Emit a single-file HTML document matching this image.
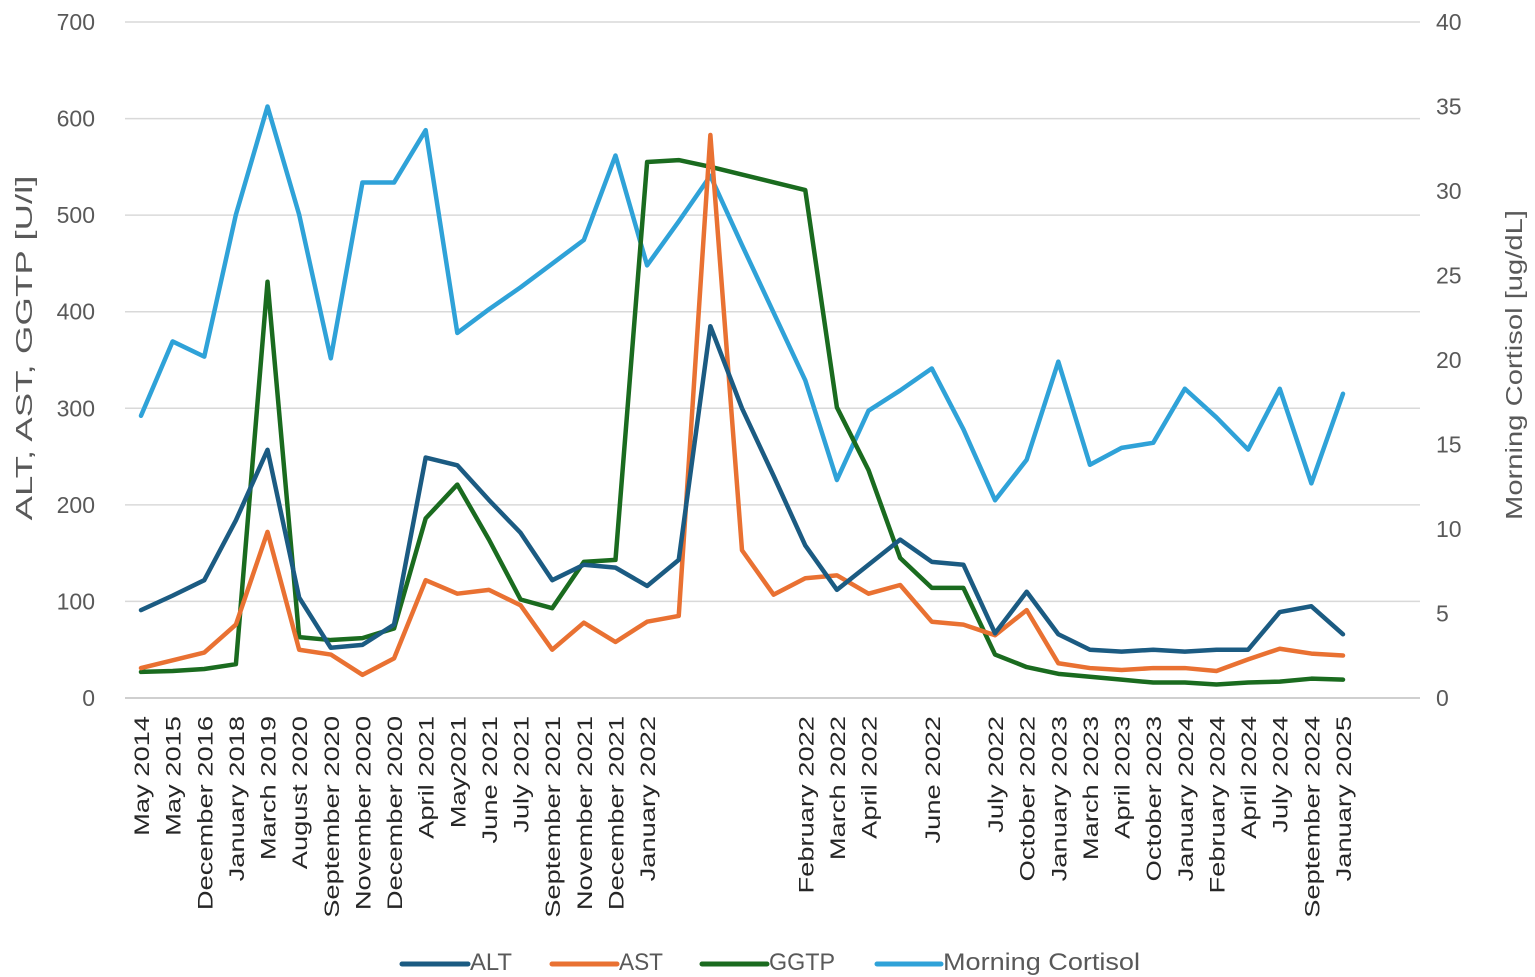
<!DOCTYPE html>
<html><head><meta charset="utf-8">
<style>
body{margin:0;background:#fff;}
svg{display:block;font-family:"Liberation Sans",sans-serif;}
</style></head>
<body>
<svg id="chart" width="1535" height="977" viewBox="0 0 1535 977">
<g id="grid"></g>
<g id="yl"></g>
<g id="yr"></g>
<g id="xl"></g>
<g id="series"></g>
<text transform="translate(32,348) rotate(-90)" text-anchor="middle" font-size="23" fill="#595959" textLength="345" lengthAdjust="spacingAndGlyphs">ALT, AST, GGTP [U/l]</text>
<text transform="translate(1522,365) rotate(-90)" text-anchor="middle" font-size="23" fill="#595959" textLength="310" lengthAdjust="spacingAndGlyphs">Morning Cortisol [ug/dL]</text>
<g font-size="24" fill="#595959">
<g><line x1="402" y1="964" x2="468" y2="964" stroke="#1b5b82" stroke-width="5" stroke-linecap="round"/><text x="470" y="970" textLength="42" lengthAdjust="spacingAndGlyphs">ALT</text></g>
<g><line x1="552" y1="964" x2="617" y2="964" stroke="#e97132" stroke-width="5" stroke-linecap="round"/><text x="619" y="970" textLength="44" lengthAdjust="spacingAndGlyphs">AST</text></g>
<g><line x1="702" y1="964" x2="767" y2="964" stroke="#1a6b1f" stroke-width="5" stroke-linecap="round"/><text x="769" y="970" textLength="66" lengthAdjust="spacingAndGlyphs">GGTP</text></g>
<g><line x1="877" y1="964" x2="941" y2="964" stroke="#2fa2d8" stroke-width="5" stroke-linecap="round"/><text x="943" y="970" textLength="197" lengthAdjust="spacingAndGlyphs">Morning Cortisol</text></g>
</g>
</svg>
<script>
const categories=["May 2014","May 2015","December 2016","January 2018","March 2019","August 2020","September 2020","November 2020","December 2020","April 2021","May2021","June 2021","July 2021","September 2021","November 2021","December 2021","January 2022","","","","","February 2022","March 2022","April 2022","","June 2022","","July 2022","October 2022","January 2023","March 2023","April 2023","October 2023","January 2024","February 2024","April 2024","July 2024","September 2024","January 2025"];
const alt=[91,106,122,184,257,104,52,55,76,249,241,205,171,122,138,135,116,143,385,300,230,158,112,138,164,141,138,67,110,66,50,48,50,48,50,50,89,95,66];
const ast=[31,39,47,76,172,50,45,24,41,122,108,112,96,50,78,58,79,85,583,153,107,124,127,108,117,79,76,65,91,36,31,29,31,31,28,40,51,46,44];
const ggtp=[27,28,30,35,431,63,60,62,72,186,221,164,102,93,141,143,555,557,550,542,534,526,301,236,145,114,114,45,32,25,22,19,16,16,14,16,17,20,19];
const cortisol=[16.7,21.1,20.2,28.6,35.0,28.6,20.1,30.5,30.5,33.6,21.6,23.0,24.3,25.7,27.1,32.1,25.6,28.2,30.9,26.8,22.8,18.8,12.9,17.0,18.2,19.5,15.9,11.7,14.1,19.9,13.8,14.8,15.1,18.3,16.6,14.7,18.3,12.7,18.0];
const leftTicks=[0,100,200,300,400,500,600,700];
const rightTicks=[0,5,10,15,20,25,30,35,40];

const NS="http://www.w3.org/2000/svg";
const y0=698,yTop=22;
const xS=i=>141+i*(1343-141)/(categories.length-1);
const yL=v=>y0-v/700*(y0-yTop);
const yR=v=>y0-v/40*(y0-yTop);
function mk(t,a,p){const e=document.createElementNS(NS,t);for(const k in a)e.setAttribute(k,a[k]);p.appendChild(e);return e;}
const grid=document.getElementById('grid'),yl=document.getElementById('yl'),yr=document.getElementById('yr'),xl=document.getElementById('xl'),ser=document.getElementById('series');
leftTicks.forEach(v=>{
  const g=mk('line',{x1:125,x2:1420,y1:yL(v),y2:yL(v),stroke:v===0?'#bfbfbf':'#d9d9d9','stroke-width':1.5},grid);
  
  
  const t=mk('text',{x:95,y:yL(v)+8,'text-anchor':'end','font-size':23,fill:'#595959'},yl);
  t.textContent=v;
  
  
});
rightTicks.forEach(v=>{
  const t=mk('text',{x:1436,y:yR(v)+8,'font-size':23,fill:'#595959'},yr);
  t.textContent=v;
  
  
});
categories.forEach((c,i)=>{
  if(!c)return;
  const x=xS(i)+8;
  const t=mk('text',{transform:`translate(${x},716) rotate(-90) scale(1.3,1)`,'text-anchor':'end','font-size':21,fill:'#262626'},xl);
  t.textContent=c;
  
  
});
function line(arr,sc,col,name){
  const p=mk('polyline',{points:arr.map((v,i)=>xS(i)+','+sc(v)).join(' '),fill:'none',stroke:col,'stroke-width':4.5,'stroke-linejoin':'round','stroke-linecap':'round'},ser);
  
  
}
line(cortisol,yR,'#2fa2d8','cortisol-line');
line(ggtp,yL,'#1a6b1f','ggtp-line');
line(ast,yL,'#e97132','ast-line');
line(alt,yL,'#1b5b82','alt-line');
</script>
</body></html>
